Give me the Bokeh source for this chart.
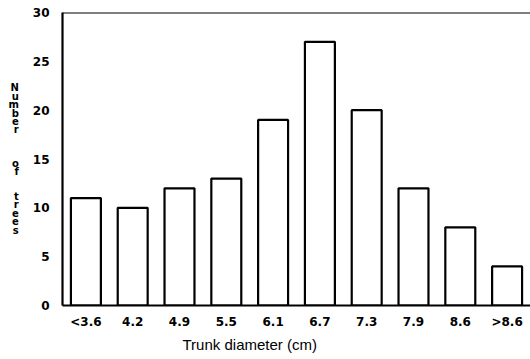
from bokeh.plotting import figure
from bokeh.models import Range1d, FactorRange, Span, ColumnDataSource, Title
from bokeh.embed import file_html
from bokeh.resources import INLINE

categories = ["<3.6", "4.2", "4.9", "5.5", "6.1", "6.7", "7.3", "7.9", "8.6", ">8.6"]
counts = [11, 10, 12, 13, 19, 27, 20, 12, 8, 4]
y_ticks = [0, 5, 10, 15, 20, 25, 30]
x_title = "Trunk diameter (cm)"
y_title_words = ["Number", "of", "trees"]

source = ColumnDataSource(data=dict(cat=categories, n=counts))

p = figure(width=530, height=359, output_backend="svg", toolbar_location=None,
           x_range=FactorRange(*categories, range_padding=0),
           y_range=Range1d(0, 30),
           min_border_left=62, min_border_right=0, min_border_top=12, min_border_bottom=54)
p.vbar(x="cat", top="n", bottom=0, width=0.64, source=source,
       fill_color="white", line_color="black", line_width=2.2)

p.outline_line_color = None
p.grid.visible = False
p.background_fill_color = "white"
p.border_fill_color = "white"

for ax in (p.xaxis, p.yaxis):
    ax.axis_line_width = 2.2
    ax.axis_line_color = "black"
    ax.major_tick_line_color = None
    ax.minor_tick_line_color = None
    ax.major_tick_out = 0
    ax.major_tick_in = 0
    ax.major_label_text_font = "DejaVu Sans"
    ax.major_label_text_font_style = "bold"
    ax.major_label_text_font_size = "12px"
    ax.major_label_text_color = "black"

p.yaxis.ticker = y_ticks
p.yaxis.major_label_standoff = 13
p.xaxis.major_label_standoff = 9

# stacked upright letters for the y title
y_label = "\n".join(y_title_words[0]) + "\n\n\n\n" + "\n".join(y_title_words[1]) + "\n\n\n" + "\n".join(y_title_words[2])
p.yaxis.axis_label = y_label
p.yaxis.axis_label_orientation = "horizontal"
p.yaxis.axis_label_text_font = "DejaVu Sans"
p.yaxis.axis_label_text_font_style = "bold"
p.yaxis.axis_label_text_font_size = "10px"
p.yaxis.axis_label_text_line_height = 0.76
p.yaxis.axis_label_text_align = "center"
p.yaxis.axis_label_standoff = 11
p.yaxis.axis_label_text_color = "black"

p.add_layout(Span(location=30, dimension="width", line_color="black", line_width=2.2))

p.add_layout(Title(text=x_title, align="left", offset=120, standoff=4,
                   text_font="Liberation Sans", text_font_style="normal",
                   text_font_size="15px", text_color="black"), "below")

open("out.html", "w").write(file_html(p, INLINE))
